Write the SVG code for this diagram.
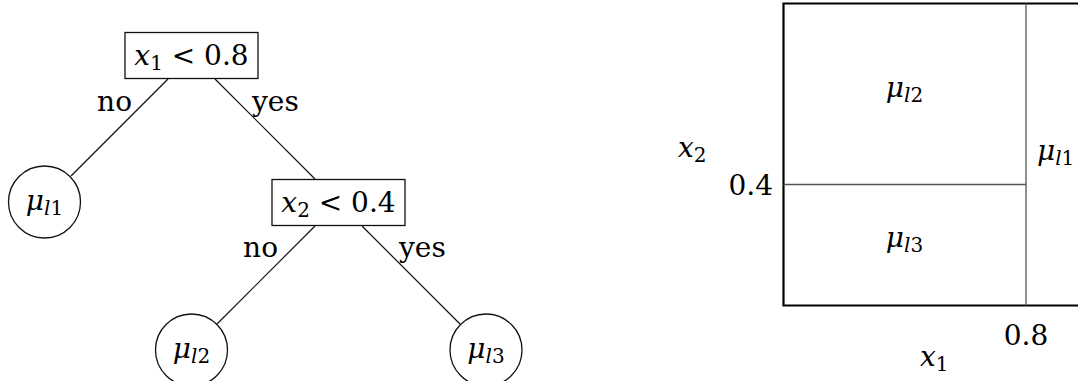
<svg xmlns="http://www.w3.org/2000/svg" width="1078" height="381" viewBox="0 0 1078 381">
<style>
.t{font-family:'DejaVu Serif',serif;font-size:28px;fill:#000}
.i{font-style:italic}
.s{font-size:20px}
.box{fill:#fff;stroke:#111;stroke-width:1.3}
.leaf{fill:#fff;stroke:#111;stroke-width:1.3}
.edge{stroke:#111;stroke-width:1.2;fill:none}
.frame{stroke:#000;stroke-width:2.2;fill:none}
.split{stroke:#555;stroke-width:1.3;fill:none}
</style>
<rect width="1078" height="381" fill="#fff"/>
<g font-family="DejaVu Serif, serif" class="t">
<g id="connectors">
<line class="edge" x1="168" y1="79" x2="71" y2="176"/>
<line class="edge" x1="215" y1="79" x2="315" y2="179"/>
<line class="edge" x1="315" y1="226" x2="217" y2="324"/>
<line class="edge" x1="362" y1="226" x2="460" y2="324"/>
<text x="132" y="111" text-anchor="end">no</text>
<text x="252" y="111">yes</text>
<text x="278" y="257" text-anchor="end">no</text>
<text x="399" y="257">yes</text>
</g>
<g id="node-root">
<rect class="box" x="125" y="32.5" width="133" height="46"/>
<text x="191.5" y="65" text-anchor="middle"><tspan class="i">x</tspan><tspan class="s" dy="5">1</tspan><tspan dy="-5"> &lt; 0.8</tspan></text>
</g>
<g id="node-split2">
<rect class="box" x="272" y="179.5" width="133" height="46"/>
<text x="338.5" y="212" text-anchor="middle"><tspan class="i">x</tspan><tspan class="s" dy="5">2</tspan><tspan dy="-5"> &lt; 0.4</tspan></text>
</g>
<g id="node-leaf1">
<circle class="leaf" cx="44.5" cy="202" r="36"/>
<text x="44.5" y="210" text-anchor="middle"><tspan class="i">μ</tspan><tspan class="s" dy="5"><tspan class="i">l</tspan>1</tspan></text>
</g>
<g id="node-leaf2">
<circle class="leaf" cx="191.5" cy="350" r="36"/>
<text x="191.5" y="358" text-anchor="middle"><tspan class="i">μ</tspan><tspan class="s" dy="5"><tspan class="i">l</tspan>2</tspan></text>
</g>
<g id="node-leaf3">
<circle class="leaf" cx="486" cy="350" r="36"/>
<text x="486" y="358" text-anchor="middle"><tspan class="i">μ</tspan><tspan class="s" dy="5"><tspan class="i">l</tspan>3</tspan></text>
</g>
<g id="partition">
<path class="frame" d="M1080,3.5 H783.5 V305.5 H1080"/>
<line class="split" x1="1026" y1="3.5" x2="1026" y2="305.5"/>
<line class="split" x1="783.5" y1="184.5" x2="1026" y2="184.5"/>
<text x="904.5" y="97" text-anchor="middle"><tspan class="i">μ</tspan><tspan class="s" dy="5"><tspan class="i">l</tspan>2</tspan></text>
<text x="904.5" y="247" text-anchor="middle"><tspan class="i">μ</tspan><tspan class="s" dy="5"><tspan class="i">l</tspan>3</tspan></text>
<text x="1037" y="160"><tspan class="i">μ</tspan><tspan class="s" dy="5"><tspan class="i">l</tspan>1</tspan></text>
<text x="678" y="157"><tspan class="i">x</tspan><tspan class="s" dy="5">2</tspan></text>
<text x="773" y="195" text-anchor="end">0.4</text>
<text x="1026" y="345" text-anchor="middle">0.8</text>
<text x="920" y="366"><tspan class="i">x</tspan><tspan class="s" dy="5">1</tspan></text>
</g>
</g>
</svg>
